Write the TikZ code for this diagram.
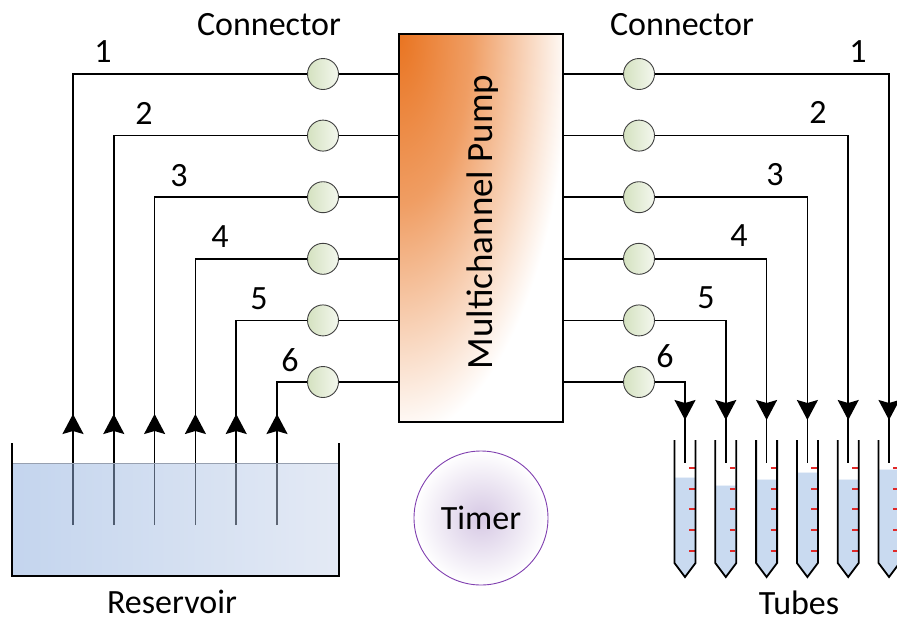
\documentclass[tikz,border=0pt]{standalone}
\usepackage{fontspec}
\setmainfont{Carlito}
\usetikzlibrary{arrows.meta,decorations.markings}

\definecolor{pumporange}{RGB}{233,116,33}
\definecolor{conngreenA}{RGB}{212,226,192}
\definecolor{conngreenB}{RGB}{244,247,238}
\definecolor{waterdark}{RGB}{137,171,221}
\definecolor{waterlight}{RGB}{201,213,235}
\definecolor{tubewater}{RGB}{201,218,240}
\definecolor{tickred}{RGB}{224,40,40}
\definecolor{timerpurple}{RGB}{128,64,176}
\definecolor{timermid}{RGB}{214,200,228}

% orange glow spreading out of the pump's top left corner
\pgfdeclareradialshading{pumpglow}{\pgfpoint{0bp}{0bp}}{%
  color(0bp)=(pumporange); color(11bp)=(pumporange!70!white);
  color(26bp)=(white); color(50bp)=(white)}

\tikzset{
  pumpbox/.style={draw, fill=white, line width=2.5pt, minimum width=164pt, minimum height=388pt,
    path picture={
      \shade[shading=pumpglow]
        ([shift={(-164pt,-388pt)}]path picture bounding box.north west) rectangle
        ([shift={(164pt,388pt)}]path picture bounding box.north west);}},
  conn/.style={circle, draw=black!75, line width=0.9pt, minimum size=31pt, inner sep=0pt,
    left color=conngreenA, right color=conngreenB},
  pipe/.style={line width=1.5pt},
  inflow/.style={pipe, postaction={decorate},
    decoration={markings, mark=at position 111pt with {\arrow{>}}}},
  outflow/.style={pipe, postaction={decorate},
    decoration={markings, mark=at position -43pt with {\arrow{>}}}},
  tubewall/.style={line width=1.8pt, line join=miter}
}

\begin{document}
\begin{tikzpicture}[x=1pt,y=-1pt,
  every node/.style={font=\fontsize{34}{40}\selectfont, inner sep=2pt},
  >={Stealth[length=20pt,width=21pt,inset=3pt]}]
\useasboundingbox (0,0) rectangle (897,622);

% pump with the connectors on both sides
\node[pumpbox] (pump) at (481,228) {};
\node[rotate=90, font=\fontsize{37}{44}\selectfont] (pumptext) at (483,222) {Multichannel Pump};
\node (connl) at (269,25) {Connector};
\node (connr) at (682,25) {Connector};

\foreach \i/\lx/\rx/\ry in {1/103/858/52,2/144/818/112,3/179/775/175,4/220/739/236,5/259/706/298,6/290/665/356} {
  \pgfmathsetmacro\y{74+(\i-1)*61.6}
  \node[conn] (L\i) at (323,\y) {};
  \node[conn] (R\i) at (639,\y) {};
  \draw[pipe] (L\i) -- (pump.west |- L\i);
  \draw[pipe] (R\i) -- (pump.east |- R\i);
  % suction lines from the reservoir, delivery lines into the tubes
  \coordinate (in\i) at ({73+(\i-1)*40.8},525);
  \coordinate (out\i) at ({889-(\i-1)*40.8},463);
  \draw[inflow] (in\i) |- (L\i);
  \draw[outflow] (R\i) -| (out\i);
  \node (nl\i) at (\lx,\y-22) {\i};
  \node (nr\i) at (\rx,\ry) {\i};
}

% reservoir
\shade[left color=waterdark, right color=waterlight, opacity=0.5] (12,463) rectangle (339,576);
\draw[black!25!waterlight, line width=0.6pt] (12,463) -- (339,463);
\draw[line width=2.5pt, line join=miter] (12,443) |- (339,576) -- (339,443);
\node (reservoir) at (172,602) {Reservoir};

% collection tubes with scale marks
\foreach \j/\lev in {1/477,2/485,3/479,4/472,5/479,6/469} {
  \pgfmathsetmacro\c{685+(\j-1)*40.8}
  \fill[tubewater] (\c-10.5,\lev) -- (\c-10.5,563) -- (\c,577) -- (\c+10.5,563) -- (\c+10.5,\lev) -- cycle;
  \draw[white!60!tubewater, line width=1pt] (\c-10,\lev) -- (\c+10,\lev);
  \foreach \t in {468,489,509,530,551}
    \draw[tickred, line width=1.2pt] (\c+4,\t) -- (\c+9.5,\t);
  \draw[tubewall] (\c-10.5,440) -- (\c-10.5,563) -- (\c,577) -- (\c+10.5,563) -- (\c+10.5,440);
}
\node (tubes) at (799,603) {Tubes};

% timer
\node[circle, minimum size=134pt, draw=timerpurple, line width=0.9pt,
  inner color=timermid, outer color=white] (timer) at (481,518) {Timer};
\end{tikzpicture}
\end{document}
